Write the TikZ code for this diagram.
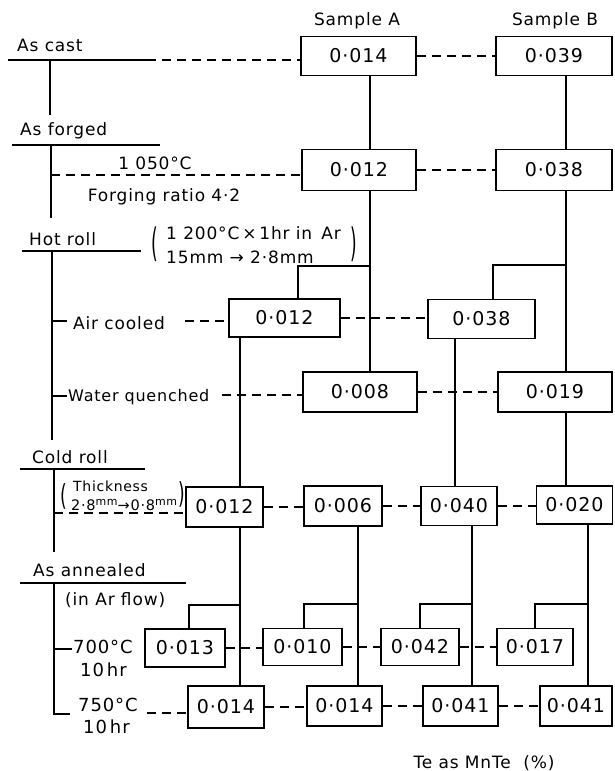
\documentclass[tikz,border=0pt]{standalone}
\usepackage{graphicx}
\usepackage{fontspec}
\setmainfont{DejaVu Sans}[LetterSpace=5]
\begin{document}
\begin{tikzpicture}[x=1pt,y=-1pt,
  bx/.style n args={2}{draw, line width=1.9pt, inner sep=0pt, minimum width=#1pt, minimum height=#2pt, font=\fontsize{19}{22}\selectfont},
  lbl/.style={inner sep=0pt, font=\fontsize{17}{20}\selectfont},
  conn/.style={line width=1.3pt},
  dashline/.style={line width=1.4pt, dash pattern=on 9pt off 6pt},
  rule/.style={line width=1.4pt}]
\useasboundingbox (0,0) rectangle (614,771);

% ---------- column headers ----------
\node[lbl] (hA) at (357,21) {Sample A};
\node[lbl] (hB) at (555,21) {Sample B};

% ---------- boxes ----------
\node[bx={115}{39}] (cA) at (358.5,56) {0·014};
\node[bx={116}{39}] (cB) at (554,56) {0·039};
\node[bx={114}{41}] (fA) at (359,170) {0·012};
\node[bx={116}{41}] (fB) at (554,170) {0·038};
\node[bx={111}{38}] (acA) at (284.5,318) {0·012};
\node[bx={107}{39}] (acB) at (481.5,319) {0·038};
\node[bx={114}{40}] (wqA) at (360,392) {0·008};
\node[bx={114}{40}] (wqB) at (555,392) {0·019};
\node[bx={77}{40}] (crA1) at (224.5,507) {0·012};
\node[bx={78}{40}] (crA2) at (343,506) {0·006};
\node[bx={76}{39}] (crB1) at (459,506) {0·040};
\node[bx={76}{38}] (crB2) at (574.5,505) {0·020};
\node[bx={80}{38}] (sA1) at (185,648) {0·013};
\node[bx={79}{37}] (sA2) at (302.5,647) {0·010};
\node[bx={78}{37}] (sB1) at (420,647) {0·042};
\node[bx={76}{37}] (sB2) at (535,647) {0·017};
\node[bx={76}{42}] (tA1) at (226,707) {0·014};
\node[bx={75}{40}] (tA2) at (344.5,706) {0·014};
\node[bx={75}{40}] (tB1) at (460.5,706) {0·041};
\node[bx={72}{40}] (tB2) at (576,706) {0·041};

% ---------- column x positions ----------
\coordinate (xA) at (370,0);
\coordinate (xB) at (566,0);
\coordinate (xAa) at (240,0);
\coordinate (xBa) at (455,0);
\coordinate (xA2) at (358,0);
\coordinate (xB1) at (472,0);
\coordinate (xB2) at (588,0);
\coordinate (bAa) at (298,0);
\coordinate (bBa) at (493,0);
\coordinate (b1) at (189,0);
\coordinate (b2) at (304,0);
\coordinate (b3) at (420,0);
\coordinate (b4) at (535,0);
\coordinate (jA) at (370,266);
\coordinate (jB) at (566,265);
\coordinate (j1) at (240,605);
\coordinate (j2) at (358,604);
\coordinate (j3) at (472,604);
\coordinate (j4) at (588,604);

% ---------- solid connectors ----------
\draw[conn] (cA.south -| xA) -- (fA.north -| xA);
\draw[conn] (fA.south -| xA) -- (wqA.north -| xA);
\draw[conn] (jA) -| (acA.north -| bAa);
\draw[conn] (cB.south -| xB) -- (fB.north -| xB);
\draw[conn] (fB.south -| xB) -- (wqB.north -| xB);
\draw[conn] (jB) -| (acB.north -| bBa);
\draw[conn] (acA.south -| xAa) -- (crA1.north -| xAa);
\draw[conn] (acB.south -| xBa) -- (crB1.north -| xBa);
\draw[conn] (wqB.south -| xB) -- (crB2.north -| xB);
\draw[conn] (crA1.south -| xAa) -- (tA1.north -| xAa);
\draw[conn] (j1) -| (sA1.north -| b1);
\draw[conn] (crA2.south -| xA2) -- (tA2.north -| xA2);
\draw[conn] (j2) -| (sA2.north -| b2);
\draw[conn] (crB1.south -| xB1) -- (tB1.north -| xB1);
\draw[conn] (j3) -| (sB1.north -| b3);
\draw[conn] (crB2.south -| xB2) -- (tB2.north -| xB2);
\draw[conn] (j4) -| (sB2.north -| b4);

% ---------- dashed connectors between boxes ----------
\draw[dashline] (cA.east) -- (cA.east -| cB.west);
\draw[dashline] (fA.east) -- (fA.east -| fB.west);
\draw[dashline] (acA.east) -- (acA.east -| acB.west);
\draw[dashline] (wqA.east) -- (wqA.east -| wqB.west);
\draw[dashline] (crA1.east) -- (crA1.east -| crA2.west);
\draw[dashline] (crA2.east) -- (crA2.east -| crB1.west);
\draw[dashline] (crB1.east) -- (crB1.east -| crB2.west);
\draw[dashline] (sA1.east) -- (sA1.east -| sA2.west);
\draw[dashline] (sA2.east) -- (sA2.east -| sB1.west);
\draw[dashline] (sB1.east) -- (sB1.east -| sB2.west);
\draw[dashline] (tA1.east) -- (tA1.east -| tA2.west);
\draw[dashline] (tA2.east) -- (tA2.east -| tB1.west);
\draw[dashline] (tB1.east) -- (tB1.east -| tB2.west);

% ---------- left side: As cast ----------
\node[lbl, anchor=west] (lCast) at (17,45) {As cast};
\coordinate (castL) at (8,60);
\coordinate (castR) at (147,60);
\draw[rule] (castL) -- (castR);
\draw[dashline] (castR) -- (castR -| cA.west);
\draw[rule] (50,60) -- (50,115);

% ---------- As forged ----------
\node[lbl, anchor=west] (lForged) at (20,131) {As forged};
\draw[rule] (12,145) -- (160,145);
\draw[rule] (51,145) -- (51,218);
\node[lbl] (lTemp) at (155,163) {1 050°C};
\node[lbl] (lRatio) at (164,197) {Forging ratio 4·2};
\coordinate (fL) at (51,175);
\draw[dashline] (fL) -- (fL -| fA.west);

% ---------- Hot roll ----------
\node[lbl, anchor=west] (lHot) at (29,239) {Hot roll};
\draw[rule] (22,251) -- (141,251);
\draw[rule] (52,251) -- (52,440);
\node[lbl] (pHotL) at (155,244) {\scalebox{1}[2.3]{(}};
\node[lbl, anchor=west] (lHotP1) at (166,233) {1 200°C\,×\,1hr in\, Ar};
\node[lbl, anchor=west] (lHotP2) at (166,257) {15mm → 2·8mm};
\node[lbl] (pHotR) at (354,244) {\scalebox{1}[2.3]{)}};
\draw[rule] (52,321) -- (67,321);
\node[lbl, anchor=west] (lAir) at (73,323) {Air cooled};
\coordinate (acL) at (185,321);
\draw[dashline] (acL) -- (acL -| acA.west);
\draw[rule] (52,396) -- (67,396);
\node[lbl, anchor=west, font=\fontsize{16}{20}\selectfont] (lWater) at (68,397) {Water quenched};
\coordinate (wqL) at (222,395);
\draw[dashline] (wqL) -- (wqL -| wqA.west);

% ---------- Cold roll ----------
\node[lbl, anchor=west] (lCold) at (32,457) {Cold roll};
\draw[rule] (20,469) -- (145,469);
\draw[rule] (54,469) -- (54,552);
\node[lbl] (pThL) at (64,496) {\scalebox{1}[1.7]{(}};
\node[lbl, anchor=west, font=\fontsize{14}{14}\selectfont] (lThick1) at (73,486) {Thickness};
\node[lbl, anchor=west, font=\fontsize{14.5}{15}\selectfont] (lThick2) at (71,505)
  {2·8\raisebox{5pt}{\fontsize{11}{11}\selectfont mm}→0·8\raisebox{5pt}{\fontsize{11}{11}\selectfont mm}};
\node[lbl] (pThR) at (182,494) {\scalebox{1}[1.7]{)}};
\coordinate (crL) at (54,513);
\draw[dashline] (crL) -- (crL -| crA1.west);

% ---------- As annealed ----------
\node[lbl, anchor=west] (lAnn) at (33,570) {As annealed};
\draw[rule] (20,583) -- (186,583);
\draw[rule] (54,583) -- (54,714) -- (70,714);
\node[lbl, anchor=west] (lFlow) at (65,600) {(in Ar flow)};
\draw[rule] (54,649) -- (72,649);
\node[lbl, anchor=west, font=\fontsize{18}{20}\selectfont] (l700) at (73,647) {700°C};
\node[lbl, anchor=west, font=\fontsize{18}{20}\selectfont] (l700h) at (80,670) {10\,hr};
\node[lbl, anchor=west, font=\fontsize{18}{20}\selectfont] (l750) at (78,705) {750°C};
\node[lbl, anchor=west, font=\fontsize{18}{20}\selectfont] (l750h) at (83,727) {10\,hr};
\coordinate (tL) at (147,713);
\draw[dashline] (tL) -- (tL -| tA1.west);

% ---------- footer ----------
\node[lbl] (lUnit) at (484,763) {Te as MnTe\ \ (\%)};
\end{tikzpicture}
\end{document}
